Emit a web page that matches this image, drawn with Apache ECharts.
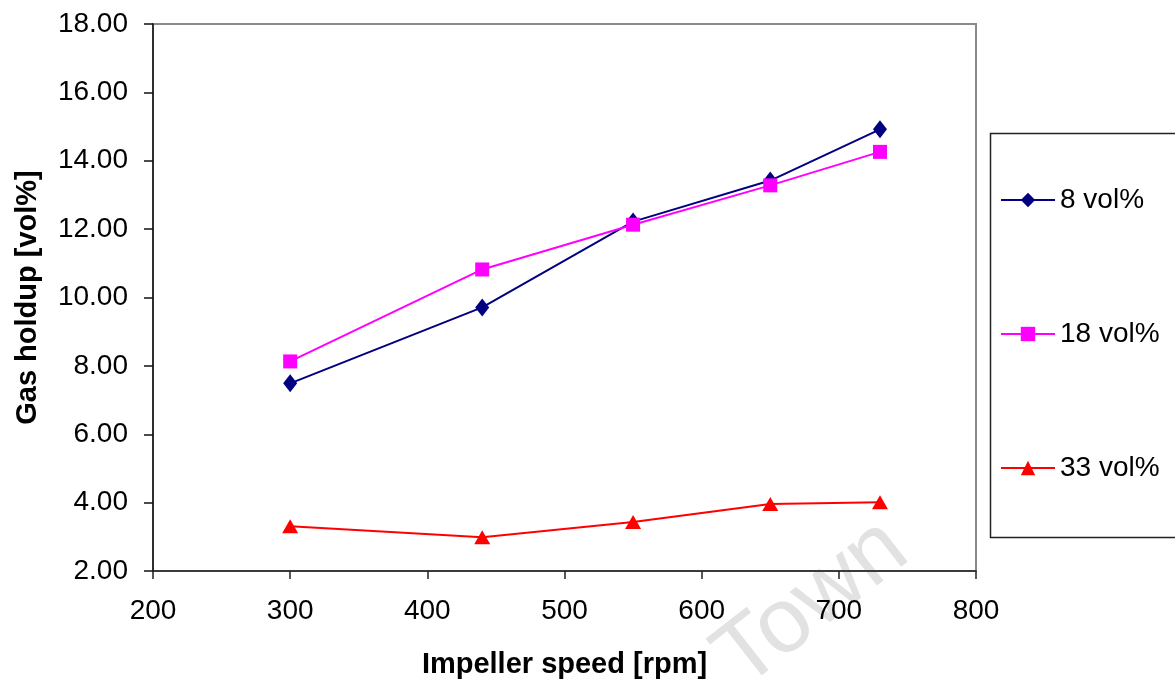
<!DOCTYPE html>
<html>
<head>
<meta charset="utf-8">
<script src="https://cdn.jsdelivr.net/npm/echarts@6/dist/echarts.min.js"></script>
<style>
html,body{margin:0;padding:0;background:#fff;}
#chart{width:1175px;height:684px;}
</style>
</head>
<body>
<div id="chart"></div>
<script>
var speeds = [300, 440, 550, 650, 730];
var vol8 = [7.49, 9.71, 12.22, 13.42, 14.92];
var vol18 = [8.13, 10.82, 12.13, 13.28, 14.26];
var vol33 = [3.31, 2.99, 3.43, 3.96, 4.01];
var seriesNames = ['8 vol%', '18 vol%', '33 vol%'];
var xAxisTitle = 'Impeller speed [rpm]';
var yAxisTitle = 'Gas holdup [vol%]';

function pairs(xs, ys) { return xs.map(function (x, i) { return [x, ys[i]]; }); }

var chart = echarts.init(document.getElementById('chart'), null, {renderer: 'canvas'});
var font = 'Liberation Sans, Arial, sans-serif';
chart.setOption({
  animation: false,
  backgroundColor: '#fff',
  textStyle: {fontFamily: font},
  grid: {left: 153, right: 199, top: 24, bottom: 112, show: true, borderColor: '#8a8a8a', borderWidth: 2, backgroundColor: 'transparent'},
  legend: {
    orient: 'vertical', left: 995, top: 181, itemGap: 106, itemWidth: 54, itemHeight: 18,
    textStyle: {fontSize: 28, color: '#000', fontFamily: font, lineHeight: 28},
    data: seriesNames
  },
  graphic: [
    {type: 'rect', left: 988, top: 131, shape: {width: 186, height: 404}, style: {fill: 'none', stroke: '#222', lineWidth: 1.5}, z: -1},
    {type: 'text', x: 812, y: 604, rotation: 38 * Math.PI / 180, z: -10,
     style: {text: 'Town', fontSize: 92, fontFamily: font, fill: '#e2e2e2', textAlign: 'center', textVerticalAlign: 'middle'}}
  ],
  xAxis: {
    type: 'value', min: 200, max: 800, interval: 100,
    name: xAxisTitle, nameLocation: 'middle', nameGap: 79,
    nameTextStyle: {fontSize: 29, fontWeight: 'bold', color: '#000', fontFamily: font},
    axisLine: {show: true, onZero: false, lineStyle: {color: '#222', width: 1.5}},
    axisTick: {show: true, length: 8, lineStyle: {color: '#222', width: 1.5}},
    axisLabel: {fontSize: 28, color: '#000', margin: 26, fontFamily: font},
    splitLine: {show: false}
  },
  yAxis: {
    type: 'value', min: 2, max: 18, interval: 2,
    name: yAxisTitle, nameLocation: 'middle', nameGap: 111,
    nameTextStyle: {fontSize: 29, fontWeight: 'bold', color: '#000', fontFamily: font},
    axisLine: {show: true, onZero: false, lineStyle: {color: '#111', width: 1.5}},
    axisTick: {show: true, length: 9, lineStyle: {color: '#111', width: 1.5}},
    axisLabel: {fontSize: 28, color: '#000', margin: 25, fontFamily: font,
      formatter: function (v) { return v.toFixed(2); }},
    splitLine: {show: false}
  },
  series: [
    {name: seriesNames[0], type: 'line', data: pairs(speeds, vol8), symbol: 'diamond', symbolSize: [14, 18],
     lineStyle: {color: '#000080', width: 2}, itemStyle: {color: '#000080'}, z: 2},
    {name: seriesNames[1], type: 'line', data: pairs(speeds, vol18), symbol: 'rect', symbolSize: 14,
     lineStyle: {color: '#ff00ff', width: 2}, itemStyle: {color: '#ff00ff'}, z: 3},
    {name: seriesNames[2], type: 'line', data: pairs(speeds, vol33), symbol: 'triangle', symbolSize: [16, 14],
     lineStyle: {color: '#ff0000', width: 2}, itemStyle: {color: '#ff0000'}, z: 4}
  ]
});
</script>
</body>
</html>
